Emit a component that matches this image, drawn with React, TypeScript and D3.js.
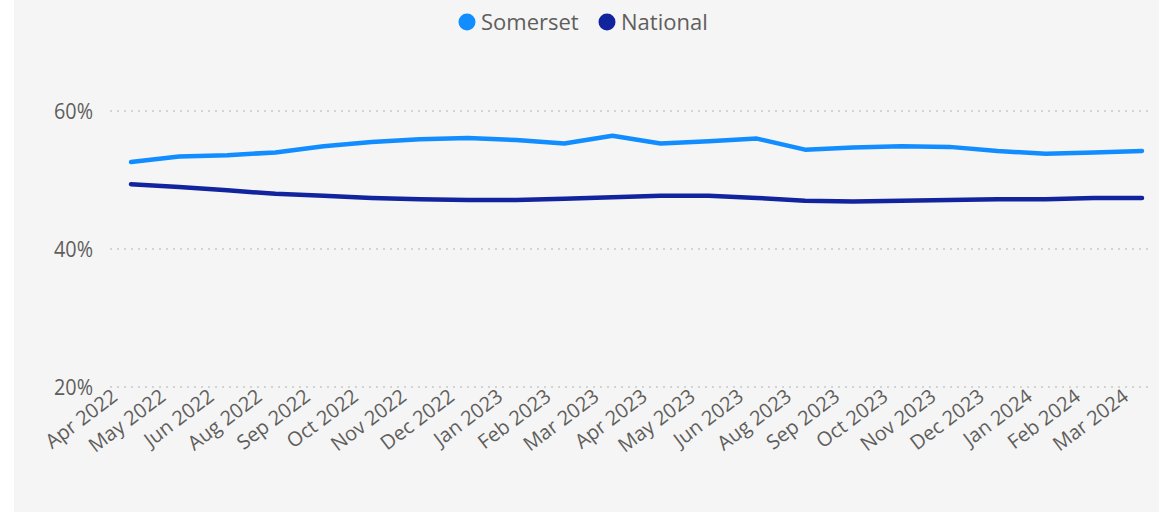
import React from "react";
import * as d3 from "d3";

const categories = [
  "Apr 2022", "May 2022", "Jun 2022", "Aug 2022", "Sep 2022", "Oct 2022", "Nov 2022", "Dec 2022",
  "Jan 2023", "Feb 2023", "Mar 2023", "Apr 2023", "May 2023", "Jun 2023", "Aug 2023", "Sep 2023",
  "Oct 2023", "Nov 2023", "Dec 2023", "Jan 2024", "Feb 2024", "Mar 2024",
];
const somerset = [52.6, 53.4, 53.6, 54.0, 54.9, 55.5, 55.9, 56.1, 55.8, 55.3, 56.4, 55.3, 55.6, 56.0, 54.4, 54.7, 54.9, 54.8, 54.2, 53.8, 54.0, 54.2];
const national = [49.4, 49.0, 48.5, 48.0, 47.7, 47.4, 47.2, 47.1, 47.1, 47.3, 47.5, 47.7, 47.7, 47.4, 47.0, 46.9, 47.0, 47.1, 47.2, 47.2, 47.4, 47.4];
const yTicks = [20, 40, 60];
const seriesNames = ["Somerset", "National"];
const seriesColors = ["#118DFF", "#12239E"];

const W = 1168;
const H = 512;

export default function App() {
  const x = d3.scalePoint<string>().domain(categories).range([131, 1142]);
  const y = d3.scaleLinear().domain([20, 60]).range([387, 111]);
  const line = d3
    .line<number>()
    .x((_, i) => x(categories[i]) as number)
    .y((d) => y(d))
    .curve(d3.curveLinear);
  const series = [somerset, national];
  const font = "'Segoe UI', 'Open Sans', sans-serif";
  const legendX = [467, 607];

  return (
    <svg width={W} height={H} style={{ position: "absolute", left: 0, top: 0, background: "#fff" }}>
      <rect x={14} y={0} width={1145} height={H} fill="#f5f5f5" />
      {yTicks.map((t) => (
        <g key={t}>
          <line x1={110} x2={1150} y1={y(t)} y2={y(t)} stroke="#c8c8c8" strokeDasharray="2,5" strokeWidth={1.5} />
          <text x={93} y={y(t)} dy="0.35em" textAnchor="end" fontFamily={font} fontSize={22} fill="#605E5C" transform={`translate(${93},0) scale(0.9,1) translate(${-93},0)`}>
            {t}%
          </text>
        </g>
      ))}
      {categories.map((c) => {
        const cx = (x(c) as number) - 12;
        const cy = 399;
        return (
          <text key={c} x={cx} y={cy} textAnchor="end" fontFamily={font} fontSize={20} fill="#605E5C" transform={`rotate(-37, ${cx}, ${cy})`}>
            {c}
          </text>
        );
      })}
      {series.map((s, i) => (
        <path key={i} d={line(s) || ""} fill="none" stroke={seriesColors[i]} strokeWidth={4.5} strokeLinejoin="round" strokeLinecap="round" />
      ))}
      {seriesNames.map((n, i) => (
        <g key={n}>
          <circle cx={legendX[i]} cy={22} r={8.5} fill={seriesColors[i]} />
          <text x={legendX[i] + 14} y={22} dy="0.35em" fontFamily={font} fontSize={22} fill="#605E5C">
            {n}
          </text>
        </g>
      ))}
    </svg>
  );
}
